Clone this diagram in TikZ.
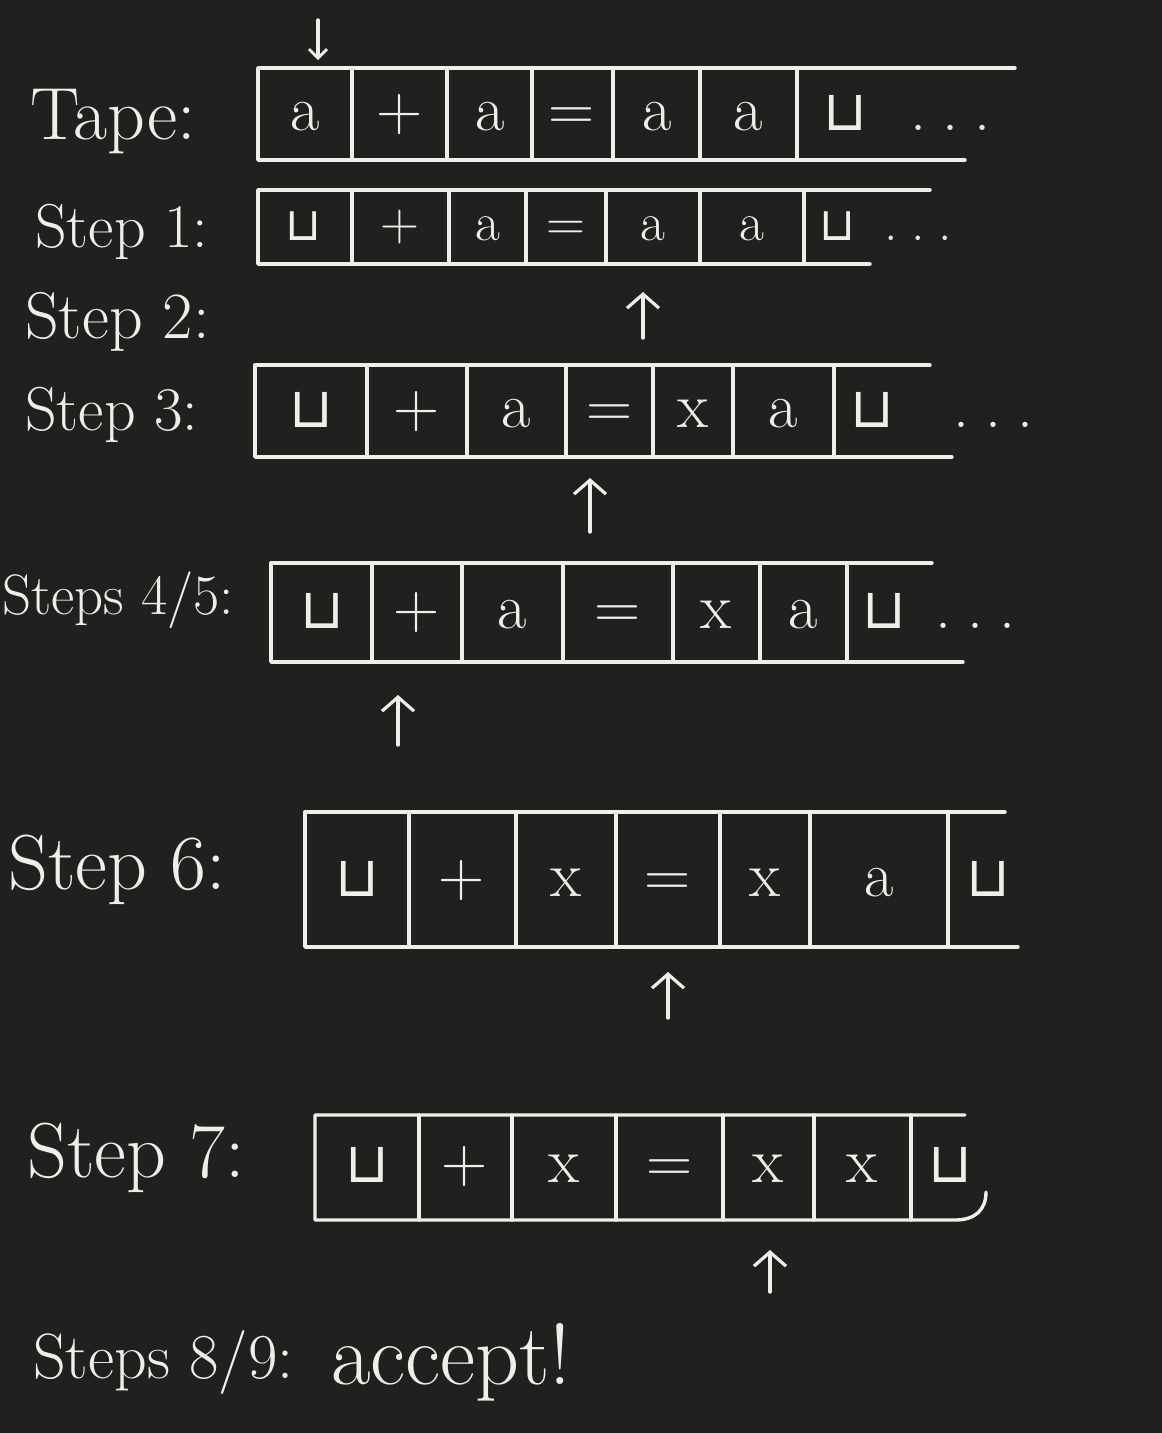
\documentclass[tikz,border=0pt]{standalone}
\usepackage{fontspec}
\newfontfamily\djv{DejaVu Sans}
\usetikzlibrary{arrows.meta}
\definecolor{board}{RGB}{33,32,31}
\definecolor{chalk}{RGB}{238,238,234}
\tikzset{
  chalkline/.style={draw=chalk, line width=3.4pt, line cap=round, line join=round},
  headarrow/.style={chalkline, -{Straight Barb[length=14pt,width=32pt,line width=3.2pt]}},
  sym/.style={text=chalk, font=\fontsize{64}{68}\selectfont, inner sep=0pt, text height=28pt, text depth=0pt},
  smallsym/.style={sym, font=\fontsize{54}{58}\selectfont, text height=24pt},
  lab/.style={text=chalk, font=\fontsize{62}{68}\selectfont, inner sep=0pt, anchor=west},
  biglab/.style={lab, font=\fontsize{78}{84}\selectfont}
}
\newcommand{\blank}{{\djv\fontsize{56}{60}\selectfont ⊔}}
\newcommand{\sblank}{{\djv\fontsize{46}{50}\selectfont ⊔}}
\newcommand{\tdots}{.\hspace{0.25em}.\hspace{0.25em}.}
\begin{document}
\begin{tikzpicture}[x=1pt,y=-1pt]
\fill[board] (0,0) rectangle (1162,1433);
\useasboundingbox (0,0) rectangle (1162,1433);

% ---------- Tape ----------
\node[lab, font=\fontsize{74}{80}\selectfont] (l0) at (30,122) {Tape:};
\draw[chalkline] (1015,68) -- (258,68) -- (258,160) -- (965,160);
\foreach \x in {352,447,532,613,700,797} \draw[chalkline] (\x,68) -- (\x,160);
\node[sym] (t0c1) at (305,116) {a};
\node[sym] (t0c2) at (400,116) {+};
\node[sym] (t0c3) at (490,116) {a};
\node[sym] (t0c4) at (572,116) {=};
\node[sym] (t0c5) at (657,116) {a};
\node[sym] (t0c6) at (748,116) {a};
\node[sym] (t0c7) at (845,116) {\blank};
\node[sym] (t0d) at (950,116) {\tdots};
\coordinate (hm) at (318,20);
\draw[chalkline, -{Straight Barb[length=9pt,width=18pt,line width=2.8pt]}] (hm) -- ++(0,40);

% ---------- Step 1 ----------
\node[lab] (l1) at (35,232) {Step 1:};
\draw[chalkline] (930,190) -- (258,190) -- (258,264) -- (870,264);
\foreach \x in {352,449,526,606,700,804} \draw[chalkline] (\x,190) -- (\x,264);
\node[smallsym] (t1c1) at (303,228) {\sblank};
\node[smallsym] (t1c2) at (400,228) {+};
\node[smallsym] (t1c3) at (488,228) {a};
\node[smallsym] (t1c4) at (566,228) {=};
\node[smallsym] (t1c5) at (653,228) {a};
\node[smallsym] (t1c6) at (752,228) {a};
\node[smallsym] (t1c7) at (837,228) {\sblank};
\node[smallsym] (t1d) at (918,228) {\tdots};
\coordinate (a1) at (643,338);
\draw[headarrow] (a1) -- ++(0,-46);

% ---------- Step 2 ----------
\node[lab, font=\fontsize{66}{72}\selectfont] (l2) at (25,322) {Step 2:};

% ---------- Step 3 ----------
\node[lab] (l3) at (25,415) {Step 3:};
\draw[chalkline] (930,365) -- (255,365) -- (255,457) -- (952,457);
\foreach \x in {367,467,566,653,733,834} \draw[chalkline] (\x,365) -- (\x,457);
\node[sym] (t3c1) at (311,413) {\blank};
\node[sym] (t3c2) at (417,413) {+};
\node[sym] (t3c3) at (516,413) {a};
\node[sym] (t3c4) at (610,413) {=};
\node[sym] (t3c5) at (693,413) {x};
\node[sym] (t3c6) at (783,413) {a};
\node[sym] (t3c7) at (872,413) {\blank};
\node[sym] (t3d) at (993,413) {\tdots};
\coordinate (a3) at (590,532);
\draw[headarrow] (a3) -- ++(0,-54);

% ---------- Steps 4/5 ----------
\node[lab, font=\fontsize{57}{62}\selectfont] (l45) at (2,600) {Steps 4/5:};
\draw[chalkline] (932,563) -- (271,563) -- (271,662) -- (963,662);
\foreach \x in {372,462,563,673,760,847} \draw[chalkline] (\x,563) -- (\x,662);
\node[sym] (t45c1) at (322,614) {\blank};
\node[sym] (t45c2) at (417,614) {+};
\node[sym] (t45c3) at (512,614) {a};
\node[sym] (t45c4) at (618,614) {=};
\node[sym] (t45c5) at (716,614) {x};
\node[sym] (t45c6) at (803,614) {a};
\node[sym] (t45c7) at (884,614) {\blank};
\node[sym] (t45d) at (975,614) {\tdots};
\coordinate (a45) at (398,745);
\draw[headarrow] (a45) -- ++(0,-50);

% ---------- Step 6 ----------
\node[biglab] (l6) at (8,870) {Step 6:};
\draw[chalkline] (1005,812) -- (305,812) -- (305,947) -- (1018,947);
\foreach \x in {409,516,616,720,810,948} \draw[chalkline] (\x,812) -- (\x,947);
\node[sym] (t6c1) at (357,882) {\blank};
\node[sym] (t6c2) at (462,882) {+};
\node[sym] (t6c3) at (566,882) {x};
\node[sym] (t6c4) at (668,882) {=};
\node[sym] (t6c5) at (765,882) {x};
\node[sym] (t6c6) at (879,882) {a};
\node[sym] (t6c7) at (988,882) {\blank};
\coordinate (a6) at (668,1018);
\draw[headarrow] (a6) -- ++(0,-46);

% ---------- Step 7 ----------
\node[biglab] (l7) at (27,1158) {Step 7:};
\draw[chalkline] (965,1115) -- (315,1115) -- (315,1220) -- (955,1220)
  .. controls (975,1220) and (986,1210) .. (986,1192);
\foreach \x in {419,512,616,723,814,911} \draw[chalkline] (\x,1115) -- (\x,1220);
\node[sym] (t7c1) at (367,1168) {\blank};
\node[sym] (t7c2) at (465,1168) {+};
\node[sym] (t7c3) at (564,1168) {x};
\node[sym] (t7c4) at (670,1168) {=};
\node[sym] (t7c5) at (768,1168) {x};
\node[sym] (t7c6) at (862,1168) {x};
\node[sym] (t7c7) at (950,1168) {\blank};
\coordinate (a7) at (770,1292);
\draw[headarrow] (a7) -- ++(0,-42);

% ---------- Steps 8/9 ----------
\node[lab, font=\fontsize{64}{70}\selectfont] (l89) at (33,1362) {Steps 8/9:};
\node[lab, font=\fontsize{86}{92}\selectfont] (acc) at (331,1362) {accept!};
\end{tikzpicture}
\end{document}
